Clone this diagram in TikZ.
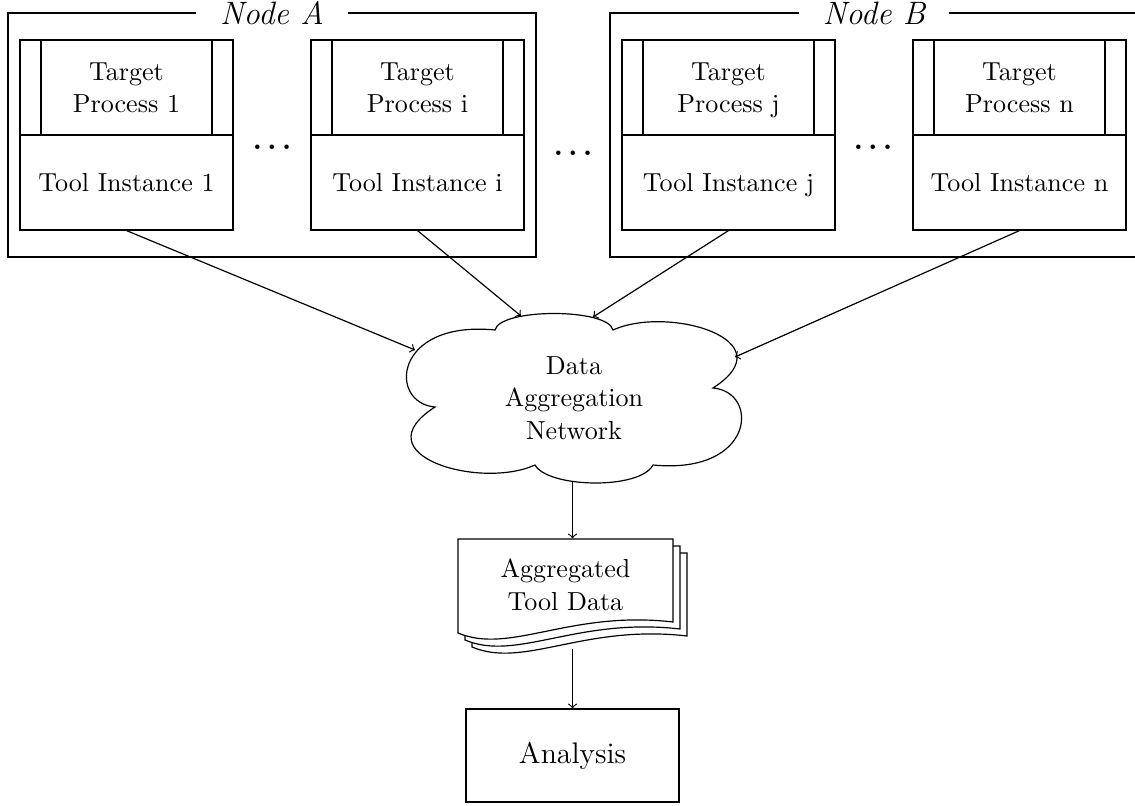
\documentclass[tikz,border=0pt]{standalone}
\usetikzlibrary{calc}
\begin{document}
\begin{tikzpicture}[x=0.42pt,y=-0.42pt, line width=0.5pt,
  nf/.style={font=\fontsize{10.95}{13.6}\selectfont},
  tgt/.style={draw, nf, minimum width=89.46pt, minimum height=39.9pt, inner sep=0pt, align=center, text depth=0pt,
    path picture={
      \draw ([xshift=8.82pt]path picture bounding box.north west) -- ([xshift=8.82pt]path picture bounding box.south west);
      \draw ([xshift=-8.82pt]path picture bounding box.north east) -- ([xshift=-8.82pt]path picture bounding box.south east);}},
  tool/.style={draw, nf, minimum width=89.46pt, minimum height=39.9pt, inner sep=0pt, text depth=0pt},
  container/.style={draw, minimum width=221.76pt, minimum height=102.48pt, inner sep=0pt},
  nlabel/.style={fill=white, font=\fontsize{13.6}{16}\selectfont\itshape, inner xsep=10pt, inner ysep=2pt, anchor=base},
  dots/.style={font=\fontsize{12}{14}\selectfont\boldmath, anchor=base, inner sep=0pt},
  arr/.style={->}]
\clip (0,0) rectangle (1135,806);

% containers
\node[container] (nodeA) at (272,135) {};
\node[container] (nodeB) at (874,135) {};
\node[nlabel] (labA) at ($(nodeA.north)+(0,12)$) {Node A};
\node[nlabel] (labB) at ($(nodeB.north)+(0,12)$) {Node B};

% process boxes
\node[tgt] (p1) at (126.5,87.5) {Target\\Process 1};
\node[tool] (t1) at (126.5,182.5) {Tool Instance 1};
\node[tgt] (pi) at (417.5,87.5) {Target\\Process i};
\node[tool] (ti) at (417.5,182.5) {Tool Instance i};
\node[tgt] (pj) at (728.5,87.5) {Target\\Process j};
\node[tool] (tj) at (728.5,182.5) {Tool Instance j};
\node[tgt] (pn) at (1019.5,87.5) {Target\\Process n};
\node[tool] (tn) at (1019.5,182.5) {Tool Instance n};

% dots
\node[dots] (d1) at (272,149.5) {$\ldots$};
\node[dots] (d2) at (573,155.5) {$\ldots$};
\node[dots] (d3) at (873,149.5) {$\ldots$};

% cloud
\coordinate (n1) at (495,330);
\coordinate (n2) at (613,330);
\coordinate (n3) at (713,388);
\coordinate (n4) at (653,465);
\coordinate (n5) at (535,465);
\coordinate (n6) at (435,407);
\draw (n1) .. controls (500,308) and (608,308) .. (n2)
           .. controls (668,305) and (788,340) .. (n3)
           .. controls (760,392) and (755,475) .. (n4)
           .. controls (640,490) and (548,488) .. (n5)
           .. controls (480,490) and (360,455) .. (n6)
           .. controls (388,403) and (393,320) .. (n1) -- cycle;
\node[nf, align=center] (net) at (574,398) {Data\\Aggregation\\Network};
\coordinate (inA) at (415,350);
\coordinate (inB) at (521,316);
\coordinate (inC) at (593,317);
\coordinate (inD) at (735,357);
\coordinate (netout) at (572.5,481.5);

\draw[arr] (t1.south) -- (inA);
\draw[arr] (ti.south) -- (inB);
\draw[arr] (tj.south) -- (inC);
\draw[arr] (tn.south) -- (inD);

% document stack
\foreach \o in {14,7,0}
  \filldraw[fill=white] ({458+\o},{539+\o}) -- ({673+\o},{539+\o}) -- ({673+\o},{622+\o})
    .. controls ({570+\o},{610+\o}) and ({510+\o},{655+\o}) .. ({458+\o},{633+\o}) -- cycle;
\node[minimum width=96.18pt, minimum height=45.78pt, inner sep=0pt] (stack) at (572.5,593.5) {};
\node[nf, align=center] (doctext) at (565.5,585) {Aggregated\\Tool Data};

% analysis
\node[draw, font=\fontsize{12.5}{15}\selectfont, minimum width=89.46pt, minimum height=39.06pt, inner sep=0pt] (ana) at (572.5,755.5) {Analysis};

\draw[arr] (netout) -- (stack.north);
\draw[arr] (stack.south) -- (ana.north);
\end{tikzpicture}
\end{document}
